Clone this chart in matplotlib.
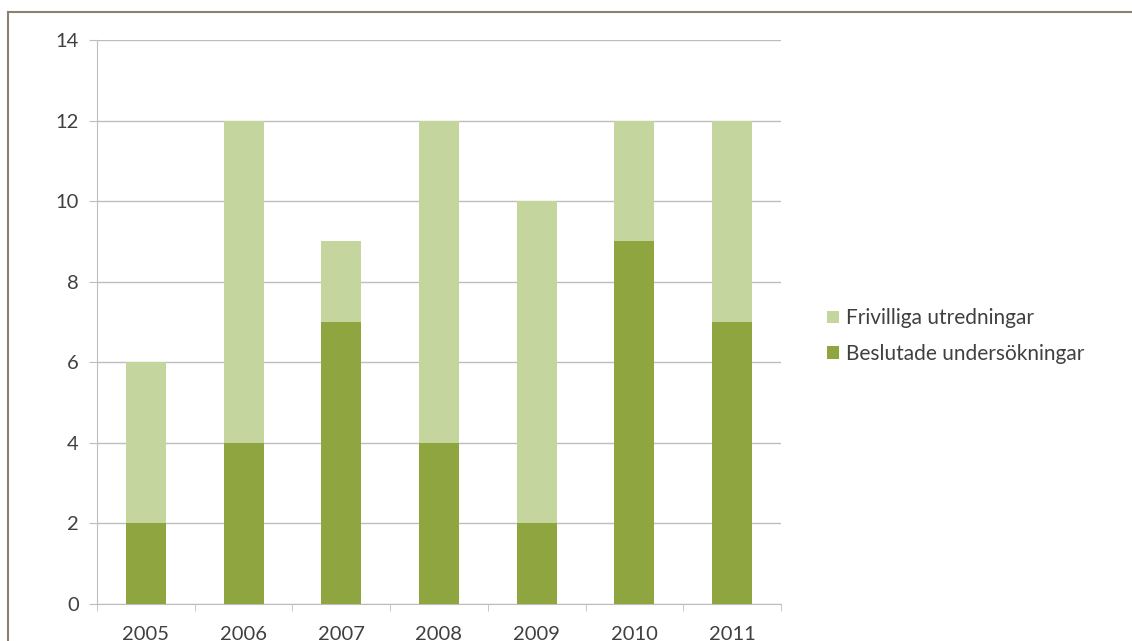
import matplotlib.pyplot as plt
from matplotlib.lines import Line2D

# Data
years = ["2005", "2006", "2007", "2008", "2009", "2010", "2011"]
beslutade = [2, 4, 7, 4, 2, 9, 7]
frivilliga = [4, 8, 2, 8, 8, 3, 5]

dark = "#8FA53F"
light = "#C4D69D"
text_col = "#404040"

plt.rcParams['font.family'] = ['Lato', 'DejaVu Sans']

fig = plt.figure(figsize=(11.32, 6.41), dpi=100)
ax = fig.add_axes([97 / 1132, 1 - 604 / 641, (781 - 97) / 1132, (604 - 40) / 641])

x = list(range(len(years)))
ax.bar(x, beslutade, width=0.41, color=dark, label="Beslutade undersökningar", zorder=3)
ax.bar(x, frivilliga, width=0.41, bottom=beslutade, color=light,
       label="Frivilliga utredningar", zorder=3)

ax.set_xlim(-0.5, len(years) - 0.5)
ax.set_ylim(0, 14)
ax.set_yticks(range(0, 15, 2))
ax.set_xticks(x)
ax.set_xticklabels(years)
ax.set_xticks([i + 0.5 for i in range(-1, len(years))], minor=True)

ax.grid(axis='y', color="#BDBDBD", linewidth=1, zorder=0)
for s in ["top", "right"]:
    ax.spines[s].set_visible(False)
ax.spines["left"].set_color("#BDBDBD")
ax.spines["bottom"].set_color("#BDBDBD")
ax.tick_params(axis='x', which='major', length=0, pad=16, labelsize=14.5, labelcolor=text_col)
ax.tick_params(axis='x', which='minor', length=5, color="#BDBDBD", direction='out')
ax.tick_params(axis='y', length=6, color="#BDBDBD", pad=7, labelsize=14.5, labelcolor=text_col)

handles, labels = ax.get_legend_handles_labels()
ax.legend(handles[::-1], labels[::-1], loc='center left', bbox_to_anchor=(1.04, 0.475),
          frameon=False, fontsize=15, labelcolor=text_col, handlelength=0.55,
          handleheight=0.55, handletextpad=0.35, labelspacing=0.75)

# outer frame
fig.add_artist(Line2D([8 / 1132, 1.0], [1 - 12 / 641] * 2, color="#8A8270", linewidth=1.5))
fig.add_artist(Line2D([8 / 1132] * 2, [0, 1 - 12 / 641], color="#8A8270", linewidth=1.5))

fig.savefig("out.png", dpi=100, facecolor="white")
